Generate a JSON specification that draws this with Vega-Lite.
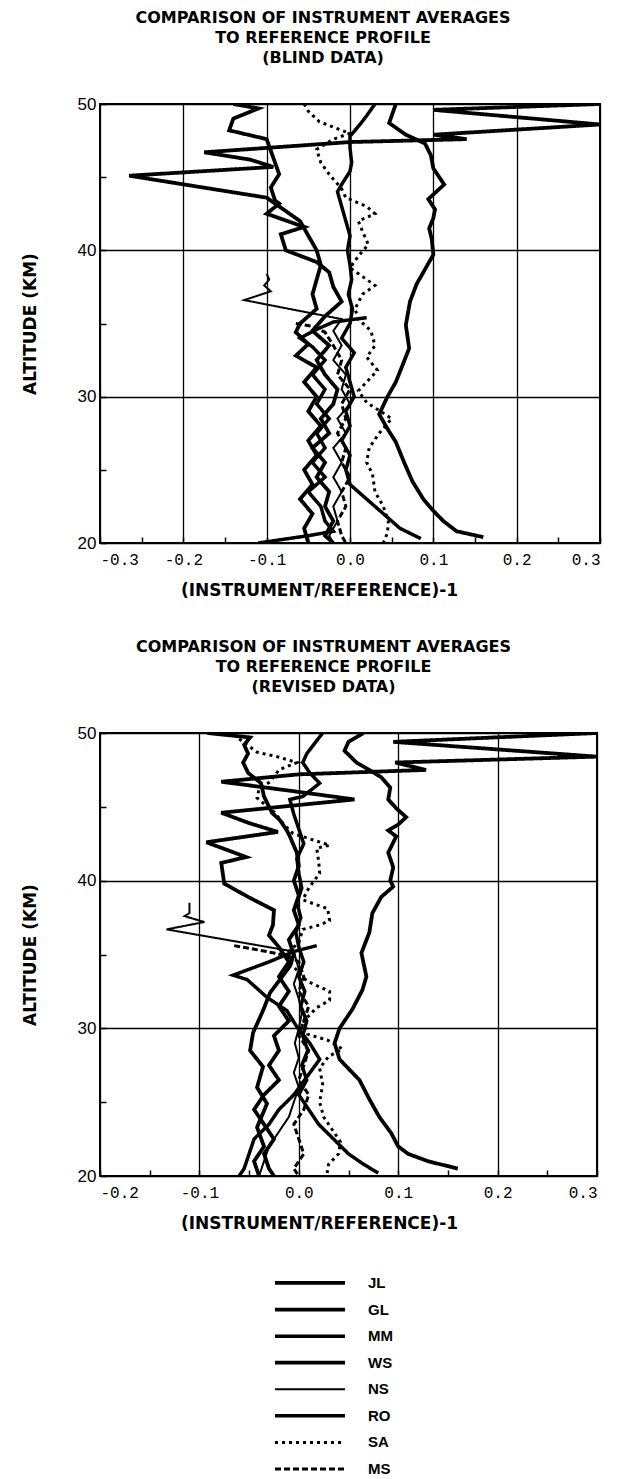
{
"$schema":"https://vega.github.io/schema/vega-lite/v6.json",
"padding":{"top":9,"left":20,"right":5,"bottom":0},
"background":"white",
"spacing":39,
"config":{"view":{"stroke":"black","strokeWidth":2},"font":"Liberation Sans","axis":{"labelColor":"black","titleColor":"black"}},
"datasets":{
"blind":[
{"series":"JL","alt":50,"dev":0.3},{"series":"JL","alt":49.6,"dev":0.1},{"series":"JL","alt":48.6,"dev":0.3},{"series":"JL","alt":47.9,"dev":0.1},{"series":"JL","alt":47.6,"dev":0.14},{"series":"JL","alt":47.4,"dev":0.0},{"series":"JL","alt":46.7,"dev":-0.175},{"series":"JL","alt":46.2,"dev":-0.12},{"series":"JL","alt":45.7,"dev":-0.092},{"series":"JL","alt":45.1,"dev":-0.265},{"series":"JL","alt":43.6,"dev":-0.1},{"series":"JL","alt":42.8,"dev":-0.08},{"series":"JL","alt":42,"dev":-0.06},{"series":"JL","alt":41,"dev":-0.05},{"series":"JL","alt":40,"dev":-0.04},{"series":"JL","alt":39,"dev":-0.035},{"series":"JL","alt":38,"dev":-0.04},{"series":"JL","alt":37,"dev":-0.045},{"series":"JL","alt":36,"dev":-0.04},{"series":"JL","alt":35,"dev":-0.06},{"series":"JL","alt":34.4,"dev":-0.065},{"series":"JL","alt":33.6,"dev":-0.05},{"series":"JL","alt":32.8,"dev":-0.065},{"series":"JL","alt":32,"dev":-0.04},{"series":"JL","alt":31,"dev":-0.055},{"series":"JL","alt":30,"dev":-0.04},{"series":"JL","alt":29,"dev":-0.05},{"series":"JL","alt":28,"dev":-0.035},{"series":"JL","alt":27,"dev":-0.05},{"series":"JL","alt":26,"dev":-0.04},{"series":"JL","alt":25,"dev":-0.055},{"series":"JL","alt":24,"dev":-0.045},{"series":"JL","alt":23,"dev":-0.06},{"series":"JL","alt":22,"dev":-0.045},{"series":"JL","alt":21,"dev":-0.055},{"series":"JL","alt":20,"dev":-0.05},
{"series":"GL","alt":50,"dev":-0.14},{"series":"GL","alt":49.7,"dev":-0.11},{"series":"GL","alt":49.0,"dev":-0.14},{"series":"GL","alt":48.2,"dev":-0.145},{"series":"GL","alt":47.6,"dev":-0.1},{"series":"GL","alt":46.8,"dev":-0.095},{"series":"GL","alt":46.0,"dev":-0.09},{"series":"GL","alt":45.2,"dev":-0.085},{"series":"GL","alt":44.3,"dev":-0.095},{"series":"GL","alt":43.4,"dev":-0.09},{"series":"GL","alt":43.2,"dev":-0.085},{"series":"GL","alt":42.5,"dev":-0.1},{"series":"GL","alt":41.6,"dev":-0.055},{"series":"GL","alt":41.1,"dev":-0.083},{"series":"GL","alt":40.0,"dev":-0.077},{"series":"GL","alt":39.2,"dev":-0.04},{"series":"GL","alt":38.5,"dev":-0.025},{"series":"GL","alt":37.5,"dev":-0.02},{"series":"GL","alt":36.5,"dev":-0.01},{"series":"GL","alt":35.5,"dev":-0.03},{"series":"GL","alt":34.5,"dev":-0.045},{"series":"GL","alt":33.5,"dev":-0.025},{"series":"GL","alt":32.5,"dev":-0.04},{"series":"GL","alt":31.5,"dev":-0.03},{"series":"GL","alt":30.5,"dev":-0.015},{"series":"GL","alt":29.5,"dev":-0.02},{"series":"GL","alt":28.5,"dev":-0.035},{"series":"GL","alt":27.5,"dev":-0.025},{"series":"GL","alt":26.5,"dev":-0.045},{"series":"GL","alt":25.5,"dev":-0.03},{"series":"GL","alt":24.5,"dev":-0.04},{"series":"GL","alt":23.5,"dev":-0.025},{"series":"GL","alt":22.5,"dev":-0.03},{"series":"GL","alt":21.5,"dev":-0.02},{"series":"GL","alt":20.5,"dev":-0.03},{"series":"GL","alt":20,"dev":-0.02},
{"series":"MM","alt":50,"dev":0.03},{"series":"MM","alt":49.2,"dev":0.02},{"series":"MM","alt":48.6,"dev":0.012},{"series":"MM","alt":47.8,"dev":0.0},{"series":"MM","alt":47,"dev":0.0},{"series":"MM","alt":46,"dev":0.002},{"series":"MM","alt":45.4,"dev":0.0},{"series":"MM","alt":44.5,"dev":-0.01},{"series":"MM","alt":44,"dev":-0.015},{"series":"MM","alt":43,"dev":-0.01},{"series":"MM","alt":42,"dev":-0.005},{"series":"MM","alt":41,"dev":0.0},{"series":"MM","alt":40,"dev":-0.003},{"series":"MM","alt":39,"dev":0.0},{"series":"MM","alt":38,"dev":0.002},{"series":"MM","alt":37,"dev":-0.002},{"series":"MM","alt":36,"dev":0.003},{"series":"MM","alt":35,"dev":0.0},{"series":"MM","alt":34,"dev":-0.01},{"series":"MM","alt":33,"dev":0.005},{"series":"MM","alt":32,"dev":-0.005},{"series":"MM","alt":31,"dev":0.0},{"series":"MM","alt":30,"dev":0.005},{"series":"MM","alt":29,"dev":-0.005},{"series":"MM","alt":28,"dev":0.0},{"series":"MM","alt":27,"dev":-0.01},{"series":"MM","alt":26,"dev":0.0},{"series":"MM","alt":25,"dev":-0.005},{"series":"MM","alt":24,"dev":0.0},{"series":"MM","alt":23,"dev":0.02},{"series":"MM","alt":22,"dev":0.04},{"series":"MM","alt":21,"dev":0.06},{"series":"MM","alt":20.3,"dev":0.085},
{"series":"WS","alt":50,"dev":0.055},{"series":"WS","alt":48.7,"dev":0.047},{"series":"WS","alt":47.9,"dev":0.067},{"series":"WS","alt":47.3,"dev":0.09},{"series":"WS","alt":46.5,"dev":0.097},{"series":"WS","alt":45.6,"dev":0.1},{"series":"WS","alt":44.5,"dev":0.113},{"series":"WS","alt":43.5,"dev":0.094},{"series":"WS","alt":42.8,"dev":0.102},{"series":"WS","alt":42.2,"dev":0.1},{"series":"WS","alt":41.5,"dev":0.095},{"series":"WS","alt":40.8,"dev":0.098},{"series":"WS","alt":39.7,"dev":0.1},{"series":"WS","alt":38.7,"dev":0.09},{"series":"WS","alt":37.7,"dev":0.08},{"series":"WS","alt":36.5,"dev":0.072},{"series":"WS","alt":34.9,"dev":0.067},{"series":"WS","alt":33.3,"dev":0.071},{"series":"WS","alt":32,"dev":0.062},{"series":"WS","alt":31,"dev":0.055},{"series":"WS","alt":30,"dev":0.045},{"series":"WS","alt":28.8,"dev":0.035},{"series":"WS","alt":27.8,"dev":0.045},{"series":"WS","alt":26.9,"dev":0.055},{"series":"WS","alt":25.5,"dev":0.065},{"series":"WS","alt":24.2,"dev":0.075},{"series":"WS","alt":23,"dev":0.088},{"series":"WS","alt":22.2,"dev":0.1},{"series":"WS","alt":21.5,"dev":0.112},{"series":"WS","alt":20.8,"dev":0.128},{"series":"WS","alt":20.4,"dev":0.16},
{"series":"NS","alt":38.4,"dev":-0.1},{"series":"NS","alt":38,"dev":-0.097},{"series":"NS","alt":37.6,"dev":-0.103},{"series":"NS","alt":37.2,"dev":-0.095},{"series":"NS","alt":36.6,"dev":-0.127},{"series":"NS","alt":35.3,"dev":-0.01},{"series":"NS","alt":34.5,"dev":-0.02},{"series":"NS","alt":33.5,"dev":-0.01},{"series":"NS","alt":32.5,"dev":-0.02},{"series":"NS","alt":31.5,"dev":-0.005},{"series":"NS","alt":30.5,"dev":-0.01},{"series":"NS","alt":29.5,"dev":0.0},{"series":"NS","alt":28.5,"dev":-0.015},{"series":"NS","alt":27.5,"dev":-0.005},{"series":"NS","alt":26.5,"dev":-0.02},{"series":"NS","alt":25.5,"dev":-0.01},{"series":"NS","alt":24.5,"dev":-0.02},{"series":"NS","alt":23.5,"dev":-0.01},{"series":"NS","alt":22.5,"dev":-0.02},{"series":"NS","alt":21.5,"dev":-0.015},{"series":"NS","alt":20.5,"dev":-0.025},{"series":"NS","alt":20,"dev":-0.02},
{"series":"RO","alt":35.4,"dev":0.02},{"series":"RO","alt":35.1,"dev":-0.02},{"series":"RO","alt":34.6,"dev":-0.04},{"series":"RO","alt":34.0,"dev":-0.06},{"series":"RO","alt":33.4,"dev":-0.045},{"series":"RO","alt":32.5,"dev":-0.03},{"series":"RO","alt":31.5,"dev":-0.045},{"series":"RO","alt":30.5,"dev":-0.03},{"series":"RO","alt":29.5,"dev":-0.04},{"series":"RO","alt":28.5,"dev":-0.025},{"series":"RO","alt":27.5,"dev":-0.04},{"series":"RO","alt":26.5,"dev":-0.03},{"series":"RO","alt":25.5,"dev":-0.045},{"series":"RO","alt":24.5,"dev":-0.03},{"series":"RO","alt":23.5,"dev":-0.05},{"series":"RO","alt":22.5,"dev":-0.035},{"series":"RO","alt":21.5,"dev":-0.03},{"series":"RO","alt":20.8,"dev":-0.02},{"series":"RO","alt":20.5,"dev":-0.05},{"series":"RO","alt":20,"dev":-0.11},
{"series":"SA","alt":50,"dev":-0.055},{"series":"SA","alt":49.5,"dev":-0.05},{"series":"SA","alt":48.8,"dev":-0.037},{"series":"SA","alt":48.2,"dev":-0.01},{"series":"SA","alt":48.0,"dev":0.0},{"series":"SA","alt":47.6,"dev":-0.02},{"series":"SA","alt":46.9,"dev":-0.04},{"series":"SA","alt":46.0,"dev":-0.035},{"series":"SA","alt":45.2,"dev":-0.025},{"series":"SA","alt":44.2,"dev":-0.01},{"series":"SA","alt":43.6,"dev":-0.005},{"series":"SA","alt":43.0,"dev":0.02},{"series":"SA","alt":42.5,"dev":0.03},{"series":"SA","alt":42,"dev":0.01},{"series":"SA","alt":41.3,"dev":0.015},{"series":"SA","alt":40.4,"dev":0.022},{"series":"SA","alt":39.6,"dev":0.01},{"series":"SA","alt":38.8,"dev":0.0},{"series":"SA","alt":38,"dev":0.02},{"series":"SA","alt":37.6,"dev":0.03},{"series":"SA","alt":37,"dev":0.015},{"series":"SA","alt":36,"dev":0.006},{"series":"SA","alt":35.3,"dev":0.01},{"series":"SA","alt":34.5,"dev":0.025},{"series":"SA","alt":33.5,"dev":0.03},{"series":"SA","alt":32.7,"dev":0.02},{"series":"SA","alt":31.8,"dev":0.033},{"series":"SA","alt":31.0,"dev":0.02},{"series":"SA","alt":30.4,"dev":0.01},{"series":"SA","alt":29.6,"dev":0.02},{"series":"SA","alt":28.5,"dev":0.05},{"series":"SA","alt":27.5,"dev":0.035},{"series":"SA","alt":26.5,"dev":0.023},{"series":"SA","alt":25.5,"dev":0.02},{"series":"SA","alt":24.7,"dev":0.027},{"series":"SA","alt":23.5,"dev":0.03},{"series":"SA","alt":22.5,"dev":0.04},{"series":"SA","alt":21.5,"dev":0.046},{"series":"SA","alt":20.7,"dev":0.045},{"series":"SA","alt":20,"dev":0.04},
{"series":"MS","alt":35.0,"dev":-0.065},{"series":"MS","alt":34.8,"dev":-0.045},{"series":"MS","alt":34.4,"dev":-0.03},{"series":"MS","alt":33.5,"dev":-0.02},{"series":"MS","alt":32.5,"dev":-0.01},{"series":"MS","alt":31.5,"dev":-0.015},{"series":"MS","alt":30.5,"dev":0.0},{"series":"MS","alt":29.5,"dev":-0.01},{"series":"MS","alt":28.5,"dev":-0.005},{"series":"MS","alt":27.5,"dev":-0.015},{"series":"MS","alt":26.5,"dev":-0.005},{"series":"MS","alt":25.5,"dev":-0.01},{"series":"MS","alt":24.5,"dev":0.0},{"series":"MS","alt":23.5,"dev":-0.01},{"series":"MS","alt":22.5,"dev":-0.005},{"series":"MS","alt":21.5,"dev":-0.015},{"series":"MS","alt":20.5,"dev":-0.01},{"series":"MS","alt":20,"dev":-0.005}
],
"revised":[
{"series":"JL","alt":50,"dev":0.3},{"series":"JL","alt":49.4,"dev":0.095},{"series":"JL","alt":48.4,"dev":0.3},{"series":"JL","alt":48.0,"dev":0.097},{"series":"JL","alt":47.5,"dev":0.128},{"series":"JL","alt":47.2,"dev":0.0},{"series":"JL","alt":46.7,"dev":-0.078},{"series":"JL","alt":46.1,"dev":-0.01},{"series":"JL","alt":45.5,"dev":0.056},{"series":"JL","alt":44.6,"dev":-0.078},{"series":"JL","alt":43.9,"dev":-0.05},{"series":"JL","alt":43.3,"dev":-0.021},{"series":"JL","alt":42.6,"dev":-0.093},{"series":"JL","alt":41.6,"dev":-0.053},{"series":"JL","alt":41.2,"dev":-0.078},{"series":"JL","alt":39.8,"dev":-0.075},{"series":"JL","alt":38.9,"dev":-0.051},{"series":"JL","alt":38,"dev":-0.025},{"series":"JL","alt":37,"dev":-0.026},{"series":"JL","alt":36.3,"dev":-0.03},{"series":"JL","alt":35.5,"dev":-0.02},{"series":"JL","alt":34.5,"dev":-0.01},{"series":"JL","alt":33.5,"dev":-0.02},{"series":"JL","alt":32.5,"dev":-0.01},{"series":"JL","alt":31.5,"dev":-0.02},{"series":"JL","alt":30.5,"dev":-0.01},{"series":"JL","alt":29.5,"dev":-0.025},{"series":"JL","alt":28.5,"dev":-0.02},{"series":"JL","alt":27.5,"dev":-0.03},{"series":"JL","alt":26.5,"dev":-0.02},{"series":"JL","alt":25.5,"dev":-0.035},{"series":"JL","alt":24.5,"dev":-0.045},{"series":"JL","alt":23.5,"dev":-0.035},{"series":"JL","alt":22.5,"dev":-0.025},{"series":"JL","alt":21.5,"dev":-0.035},{"series":"JL","alt":20.5,"dev":-0.03},{"series":"JL","alt":20,"dev":-0.025},
{"series":"GL","alt":50,"dev":-0.092},{"series":"GL","alt":49.7,"dev":-0.049},{"series":"GL","alt":49.2,"dev":-0.055},{"series":"GL","alt":48.6,"dev":-0.051},{"series":"GL","alt":48,"dev":-0.056},{"series":"GL","alt":47.3,"dev":-0.051},{"series":"GL","alt":46.6,"dev":-0.038},{"series":"GL","alt":45.7,"dev":-0.035},{"series":"GL","alt":44.6,"dev":-0.027},{"series":"GL","alt":44.1,"dev":-0.019},{"series":"GL","alt":43.4,"dev":-0.012},{"series":"GL","alt":43,"dev":-0.009},{"series":"GL","alt":41.9,"dev":-0.002},{"series":"GL","alt":41,"dev":0.0},{"series":"GL","alt":40,"dev":-0.005},{"series":"GL","alt":39,"dev":0.0},{"series":"GL","alt":38,"dev":-0.005},{"series":"GL","alt":37,"dev":0.0},{"series":"GL","alt":36,"dev":-0.01},{"series":"GL","alt":35,"dev":-0.005},{"series":"GL","alt":34.2,"dev":-0.009},{"series":"GL","alt":32.4,"dev":-0.029},{"series":"GL","alt":31.2,"dev":-0.036},{"series":"GL","alt":29.7,"dev":-0.046},{"series":"GL","alt":28.5,"dev":-0.049},{"series":"GL","alt":27.4,"dev":-0.036},{"series":"GL","alt":26,"dev":-0.042},{"series":"GL","alt":24.9,"dev":-0.032},{"series":"GL","alt":23.3,"dev":-0.042},{"series":"GL","alt":22,"dev":-0.035},{"series":"GL","alt":21,"dev":-0.045},{"series":"GL","alt":20,"dev":-0.04},
{"series":"MM","alt":50,"dev":0.024},{"series":"MM","alt":48.6,"dev":0.008},{"series":"MM","alt":48,"dev":0.004},{"series":"MM","alt":47.3,"dev":0.011},{"series":"MM","alt":46.6,"dev":0.021},{"series":"MM","alt":45.7,"dev":0.004},{"series":"MM","alt":45.5,"dev":-0.009},{"series":"MM","alt":44.5,"dev":-0.005},{"series":"MM","alt":43.5,"dev":0.0},{"series":"MM","alt":42.5,"dev":0.005},{"series":"MM","alt":41.5,"dev":-0.002},{"series":"MM","alt":40.5,"dev":0.0},{"series":"MM","alt":39.5,"dev":0.003},{"series":"MM","alt":38.5,"dev":-0.002},{"series":"MM","alt":37.5,"dev":0.002},{"series":"MM","alt":36.5,"dev":-0.003},{"series":"MM","alt":35.5,"dev":0.0},{"series":"MM","alt":34.5,"dev":0.005},{"series":"MM","alt":33.5,"dev":0.0},{"series":"MM","alt":32.5,"dev":0.006},{"series":"MM","alt":31.5,"dev":0.002},{"series":"MM","alt":30.5,"dev":0.008},{"series":"MM","alt":29.5,"dev":0.004},{"series":"MM","alt":28.5,"dev":0.009},{"series":"MM","alt":27.5,"dev":0.003},{"series":"MM","alt":26.5,"dev":0.008},{"series":"MM","alt":25.5,"dev":0.0},{"series":"MM","alt":24.5,"dev":0.01},{"series":"MM","alt":23.5,"dev":0.02},{"series":"MM","alt":22.5,"dev":0.035},{"series":"MM","alt":21.5,"dev":0.05},{"series":"MM","alt":20.8,"dev":0.065},{"series":"MM","alt":20.2,"dev":0.08},
{"series":"WS","alt":50,"dev":0.065},{"series":"WS","alt":49.4,"dev":0.05},{"series":"WS","alt":48.8,"dev":0.046},{"series":"WS","alt":48,"dev":0.058},{"series":"WS","alt":47.5,"dev":0.071},{"series":"WS","alt":47,"dev":0.083},{"series":"WS","alt":46.3,"dev":0.092},{"series":"WS","alt":45.5,"dev":0.09},{"series":"WS","alt":44.9,"dev":0.098},{"series":"WS","alt":44.3,"dev":0.108},{"series":"WS","alt":43.8,"dev":0.1},{"series":"WS","alt":43.4,"dev":0.09},{"series":"WS","alt":43,"dev":0.098},{"series":"WS","alt":41.9,"dev":0.09},{"series":"WS","alt":40.9,"dev":0.095},{"series":"WS","alt":40,"dev":0.092},{"series":"WS","alt":39.6,"dev":0.095},{"series":"WS","alt":38.9,"dev":0.083},{"series":"WS","alt":37.8,"dev":0.074},{"series":"WS","alt":36.5,"dev":0.071},{"series":"WS","alt":35.1,"dev":0.063},{"series":"WS","alt":33.5,"dev":0.068},{"series":"WS","alt":32.6,"dev":0.064},{"series":"WS","alt":31.3,"dev":0.054},{"series":"WS","alt":30,"dev":0.041},{"series":"WS","alt":29,"dev":0.036},{"series":"WS","alt":27.9,"dev":0.041},{"series":"WS","alt":26.5,"dev":0.061},{"series":"WS","alt":25.2,"dev":0.071},{"series":"WS","alt":24,"dev":0.081},{"series":"WS","alt":22.9,"dev":0.093},{"series":"WS","alt":22,"dev":0.1},{"series":"WS","alt":21.5,"dev":0.11},{"series":"WS","alt":21,"dev":0.13},{"series":"WS","alt":20.5,"dev":0.16},
{"series":"NS","alt":38.5,"dev":-0.11},{"series":"NS","alt":37.8,"dev":-0.11},{"series":"NS","alt":37.6,"dev":-0.115},{"series":"NS","alt":37.2,"dev":-0.095},{"series":"NS","alt":36.7,"dev":-0.133},{"series":"NS","alt":35.2,"dev":-0.005},{"series":"NS","alt":34,"dev":0.0},{"series":"NS","alt":33,"dev":-0.005},{"series":"NS","alt":32,"dev":0.0},{"series":"NS","alt":31,"dev":0.003},{"series":"NS","alt":30,"dev":0.0},{"series":"NS","alt":29,"dev":-0.004},{"series":"NS","alt":28,"dev":0.0},{"series":"NS","alt":27,"dev":-0.005},{"series":"NS","alt":26,"dev":0.0},{"series":"NS","alt":25,"dev":-0.005},{"series":"NS","alt":24,"dev":-0.01},{"series":"NS","alt":23,"dev":-0.02},{"series":"NS","alt":22,"dev":-0.03},{"series":"NS","alt":21,"dev":-0.035},{"series":"NS","alt":20,"dev":-0.04},
{"series":"RO","alt":35.6,"dev":0.018},{"series":"RO","alt":35.2,"dev":-0.005},{"series":"RO","alt":34.5,"dev":-0.03},{"series":"RO","alt":34.0,"dev":-0.05},{"series":"RO","alt":33.6,"dev":-0.066},{"series":"RO","alt":33.3,"dev":-0.052},{"series":"RO","alt":32.1,"dev":-0.032},{"series":"RO","alt":31.2,"dev":-0.012},{"series":"RO","alt":30.1,"dev":-0.002},{"series":"RO","alt":29,"dev":0.011},{"series":"RO","alt":27.9,"dev":0.021},{"series":"RO","alt":26.7,"dev":0.008},{"series":"RO","alt":25.5,"dev":-0.005},{"series":"RO","alt":24.5,"dev":-0.02},{"series":"RO","alt":23.5,"dev":-0.03},{"series":"RO","alt":22.5,"dev":-0.045},{"series":"RO","alt":21.5,"dev":-0.05},{"series":"RO","alt":20.5,"dev":-0.055},{"series":"RO","alt":20,"dev":-0.06},
{"series":"SA","alt":49.6,"dev":-0.06},{"series":"SA","alt":48.7,"dev":-0.042},{"series":"SA","alt":48.4,"dev":-0.022},{"series":"SA","alt":48,"dev":-0.002},{"series":"SA","alt":47.5,"dev":-0.02},{"series":"SA","alt":46.7,"dev":-0.029},{"series":"SA","alt":46.2,"dev":-0.04},{"series":"SA","alt":45.6,"dev":-0.042},{"series":"SA","alt":44.6,"dev":-0.024},{"series":"SA","alt":43.8,"dev":-0.015},{"series":"SA","alt":43.2,"dev":-0.006},{"series":"SA","alt":42.4,"dev":0.031},{"series":"SA","alt":42.2,"dev":0.018},{"series":"SA","alt":41.3,"dev":0.02},{"series":"SA","alt":40.5,"dev":0.021},{"series":"SA","alt":39.5,"dev":0.01},{"series":"SA","alt":38.7,"dev":0.004},{"series":"SA","alt":38.1,"dev":0.029},{"series":"SA","alt":37.3,"dev":0.031},{"series":"SA","alt":37.0,"dev":0.021},{"series":"SA","alt":36.7,"dev":0.004},{"series":"SA","alt":35.8,"dev":0.0},{"series":"SA","alt":35.2,"dev":-0.01},{"series":"SA","alt":34.5,"dev":-0.01},{"series":"SA","alt":33.8,"dev":0.0},{"series":"SA","alt":33.2,"dev":0.008},{"series":"SA","alt":32.5,"dev":0.031},{"series":"SA","alt":31.9,"dev":0.031},{"series":"SA","alt":31.4,"dev":0.018},{"series":"SA","alt":30.5,"dev":0.005},{"series":"SA","alt":29.6,"dev":0.009},{"series":"SA","alt":29.2,"dev":0.029},{"series":"SA","alt":28.6,"dev":0.044},{"series":"SA","alt":28.1,"dev":0.03},{"series":"SA","alt":27.3,"dev":0.021},{"series":"SA","alt":26.2,"dev":0.024},{"series":"SA","alt":25.0,"dev":0.021},{"series":"SA","alt":24,"dev":0.025},{"series":"SA","alt":23,"dev":0.035},{"series":"SA","alt":22.3,"dev":0.042},{"series":"SA","alt":21.5,"dev":0.04},{"series":"SA","alt":20.8,"dev":0.03},{"series":"SA","alt":20,"dev":0.028},
{"series":"MS","alt":35.6,"dev":-0.065},{"series":"MS","alt":35.3,"dev":-0.04},{"series":"MS","alt":34.9,"dev":-0.01},{"series":"MS","alt":34.5,"dev":0.0},{"series":"MS","alt":33.5,"dev":0.005},{"series":"MS","alt":32.5,"dev":0.0},{"series":"MS","alt":31.5,"dev":0.01},{"series":"MS","alt":30.5,"dev":0.005},{"series":"MS","alt":29.5,"dev":0.0},{"series":"MS","alt":28.5,"dev":0.01},{"series":"MS","alt":27.5,"dev":0.005},{"series":"MS","alt":26.5,"dev":0.0},{"series":"MS","alt":25.5,"dev":0.01},{"series":"MS","alt":24.5,"dev":0.005},{"series":"MS","alt":23.5,"dev":-0.005},{"series":"MS","alt":22.5,"dev":0.0},{"series":"MS","alt":21.5,"dev":0.005},{"series":"MS","alt":20.5,"dev":-0.005},{"series":"MS","alt":20,"dev":0.0}
],
"legend":[{"series":"JL"},{"series":"GL"},{"series":"MM"},{"series":"WS"},{"series":"NS"},{"series":"RO"},{"series":"SA"},{"series":"MS"}]
},
"vconcat":[
{
"width":500,"height":439,
"data":{"name":"blind"},
"title":{"text":["COMPARISON OF INSTRUMENT AVERAGES","TO REFERENCE PROFILE","(BLIND DATA)"],"font":"DejaVu Sans","fontSize":16,"fontWeight":"bold","lineHeight":20,"anchor":"middle","offset":29,"dx":-27,"color":"black"},
"mark":{"type":"line","color":"black","clip":true,"strokeCap":"butt"},
"encoding":{
"x":{"field":"dev","type":"quantitative","scale":{"domain":[-0.3,0.3],"nice":false,"zero":false},
"axis":{"values":[-0.3,-0.25,-0.2,-0.15,-0.1,-0.05,0,0.05,0.1,0.15,0.2,0.25,0.3],"title":"(INSTRUMENT/REFERENCE)-1","titleFont":"DejaVu Sans","titleFontWeight":"bold","titleFontSize":17,"titlePadding":15,"titleX":219,
"labelFont":"Liberation Mono","labelFontSize":16,"labelPadding":14,"labelExpr":"abs(round(datum.value*20))%2==0 ? replace(format(datum.value,'.1f'),'\u2212','-') : ''",
"grid":true,"gridColor":"black","gridWidth":1.3,"gridOpacity":{"condition":{"test":"abs(round(datum.value*20))%2==0","value":1},"value":0},
"domain":false,"tickColor":"black","tickWidth":1.5,"tickSize":-6}},
"y":{"field":"alt","type":"quantitative","scale":{"domain":[20,50],"nice":false,"zero":false},
"axis":{"values":[20,25,30,35,40,45,50],"title":"ALTITUDE  (KM)","titleFont":"DejaVu Sans","titleFontWeight":"bold","titleFontSize":17,"titlePadding":38,
"labelFont":"Liberation Sans","labelFontSize":17,"labelPadding":10,"labelExpr":"datum.value % 10 == 0 ? datum.label : ''",
"grid":true,"gridColor":"black","gridWidth":1.3,"gridOpacity":{"condition":{"test":"datum.value % 10 == 0","value":1},"value":0},
"domain":false,"tickColor":"black","tickWidth":1.5,"tickSize":-6}},
"order":{"field":"alt","sort":"descending"},
"detail":{"field":"series","type":"nominal"},
"strokeDash":{"field":"series","type":"nominal","scale":{"domain":["JL","GL","MM","WS","NS","RO","SA","MS"],"range":[[1,0],[1,0],[1,0],[1,0],[1,0],[1,0],[3,4],[6,3]]},"legend":null},
"strokeWidth":{"field":"series","type":"nominal","scale":{"type":"ordinal","domain":["JL","GL","MM","WS","NS","RO","SA","MS"],"range":[3.8,3.8,3.5,3.8,2,3.5,3,3]},"legend":null}
}
},
{
"width":497,"height":443,
"data":{"name":"revised"},
"title":{"text":["COMPARISON OF INSTRUMENT AVERAGES","TO REFERENCE PROFILE","(REVISED DATA)"],"font":"DejaVu Sans","fontSize":16,"fontWeight":"bold","lineHeight":20,"anchor":"middle","offset":29,"dx":-25,"color":"black"},
"mark":{"type":"line","color":"black","clip":true,"strokeCap":"butt"},
"encoding":{
"x":{"field":"dev","type":"quantitative","scale":{"domain":[-0.2,0.3],"nice":false,"zero":false},
"axis":{"values":[-0.2,-0.15,-0.1,-0.05,0,0.05,0.1,0.15,0.2,0.25,0.3],"title":"(INSTRUMENT/REFERENCE)-1","titleFont":"DejaVu Sans","titleFontWeight":"bold","titleFontSize":17,"titlePadding":15,"titleX":219,
"labelFont":"Liberation Mono","labelFontSize":16,"labelPadding":14,"labelExpr":"abs(round(datum.value*20))%2==0 ? replace(format(datum.value,'.1f'),'\u2212','-') : ''",
"grid":true,"gridColor":"black","gridWidth":1.3,"gridOpacity":{"condition":{"test":"abs(round(datum.value*20))%2==0","value":1},"value":0},
"domain":false,"tickColor":"black","tickWidth":1.5,"tickSize":-6}},
"y":{"field":"alt","type":"quantitative","scale":{"domain":[20,50],"nice":false,"zero":false},
"axis":{"values":[20,25,30,35,40,45,50],"title":"ALTITUDE  (KM)","titleFont":"DejaVu Sans","titleFontWeight":"bold","titleFontSize":17,"titlePadding":38,
"labelFont":"Liberation Sans","labelFontSize":17,"labelPadding":10,"labelExpr":"datum.value % 10 == 0 ? datum.label : ''",
"grid":true,"gridColor":"black","gridWidth":1.3,"gridOpacity":{"condition":{"test":"datum.value % 10 == 0","value":1},"value":0},
"domain":false,"tickColor":"black","tickWidth":1.5,"tickSize":-6}},
"order":{"field":"alt","sort":"descending"},
"detail":{"field":"series","type":"nominal"},
"strokeDash":{"field":"series","type":"nominal","scale":{"domain":["JL","GL","MM","WS","NS","RO","SA","MS"],"range":[[1,0],[1,0],[1,0],[1,0],[1,0],[1,0],[3,4],[6,3]]},"legend":null},
"strokeWidth":{"field":"series","type":"nominal","scale":{"type":"ordinal","domain":["JL","GL","MM","WS","NS","RO","SA","MS"],"range":[3.8,3.8,3.5,3.8,2,3.5,3,3]},"legend":null}
}
},
{
"width":500,"height":210,
"view":{"stroke":null},
"data":{"name":"legend"},
"layer":[
{"mark":{"type":"rule","color":"black","strokeCap":"butt"},
"encoding":{
"x":{"datum":35,"type":"quantitative","scale":{"domain":[0,100],"nice":false},"axis":null},
"x2":{"datum":49},
"y":{"field":"series","type":"nominal","sort":null,"scale":{"type":"point","padding":0.45},"axis":null},
"strokeDash":{"field":"series","type":"nominal","scale":{"domain":["JL","GL","MM","WS","NS","RO","SA","MS"],"range":[[1,0],[1,0],[1,0],[1,0],[1,0],[1,0],[3,4],[6,3]]},"legend":null},
"strokeWidth":{"field":"series","type":"nominal","scale":{"type":"ordinal","domain":["JL","GL","MM","WS","NS","RO","SA","MS"],"range":[3.8,3.8,3.5,3.8,2,3.5,3,3]},"legend":null}
}},
{"mark":{"type":"text","align":"left","baseline":"middle","font":"Liberation Sans","fontSize":15,"fontWeight":"bold","color":"black"},
"encoding":{
"x":{"datum":53.6,"type":"quantitative"},
"y":{"field":"series","type":"nominal","sort":null},
"text":{"field":"series"}
}}
]
}
]
}
